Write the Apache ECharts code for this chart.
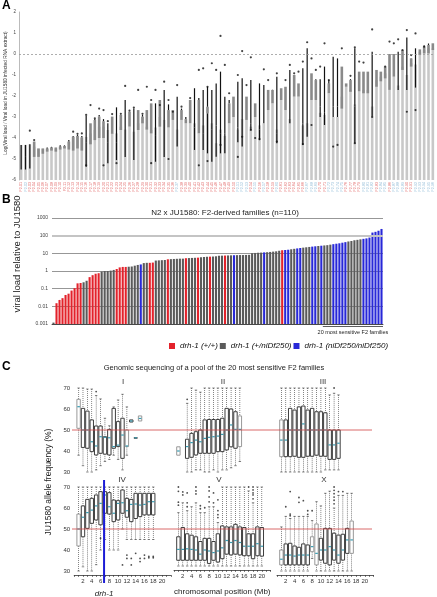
<!DOCTYPE html>
<html><head><meta charset="utf-8">
<script src="https://cdn.jsdelivr.net/npm/echarts@6/dist/echarts.min.js"></script>
<style>html,body{margin:0;padding:0;background:#fff}#c{width:437px;height:597px}</style>
</head><body><div id="c"></div>
<script>
// ---------- Panel A : per-strain log viral load (box summaries) ----------
const aLabels = Array.from({length: 96}, (_, i) => 'F2-' + String(i + 1).padStart(2, '0'));
const aLabelColor = ('rb' + 'r'.repeat(34) + 'b' + 'r'.repeat(13) +
  'bbbrbrbrrbrrrrrrbbbrrbbbbrrrrbbbrbbrbbbrrbbbbb').split('');
const aTop = [-4.33,-4.33,-4.3,-4.41,-4.5,-4.5,-4.5,-4.45,-4.5,-4.42,
  -4.4,-4.17,-3.94,-3.9,-3.97,-3.95,-3.78,-3.62,-3.46,-3.46,
  -3.62,-3.78,-3.78,-3.46,-3.6,-3.46,-3.7,-3.3,-3.0,-3.46,
  -3.62,-3.5,-3.0,-3.14,-3.5,-3.14,-3.6,-3.14,-3.3,-3.3,
  -3.3,-3.78,-3.4,-2.83,-3.3,-4.25,-3.6,-3.9,-3.3,-3.0,
  -3.6,-3.1,-3.14,-3.46,-3.0,-3.4,-3.3,-2.67,-2.35,-3.6,
  -2.19,-2.67,-3.1,-2.03,-2.03,-3.4,-3.3,-2.19,-2.19,-2.8,
  -2.9,-1.87,-3.0,-3.0,-2.03,-1.56,-1.71,-2.4,-1.78,-1.71,
  -1.71,-2.5,-1.24,-1.08,-0.92,-1.71,-1.08,-1.5,-0.6,-1.0,
  -0.44,-0.5,0.11,0.19,0.27,0.27];
const aQ1 = [-4.9,-4.9,-4.9,-4.9,-4.9,-4.75,-4.65,-4.6,-4.65,-4.55,
  -4.5,-4.55,-4.6,-4.5,-4.6,-4.2,-4.3,-4.1,-4.0,-4.0,
  -4.2,-3.8,-4.2,-3.62,-4.0,-3.46,-4.1,-3.62,-3.3,-3.6,
  -3.78,-3.9,-3.46,-3.9,-3.5,-3.14,-4.0,-3.14,-3.3,-3.3,
  -3.5,-3.78,-3.8,-2.83,-3.6,-3.4,-3.8,-3.8,-3.3,-3.0,
  -3.5,-3.9,-3.14,-3.3,-3.0,-3.6,-3.3,-2.67,-2.35,-3.8,
  -2.19,-2.67,-3.0,-2.03,-2.03,-3.3,-3.0,-2.19,-2.19,-2.5,
  -2.8,-1.87,-2.5,-2.5,-2.6,-1.56,-1.8,-2.5,-1.78,-1.87,
  -1.87,-2.98,-1.56,-1.3,-1.16,-1.71,-1.08,-1.71,-0.76,-1.71,
  -0.6,-1.6,-0.05,0.03,0.03,0.19];
const aQ3 = [-4.9,-4.9,-4.9,-4.17,-4.5,-4.5,-4.5,-4.45,-4.45,-4.4,
  -4.38,-4.17,-3.94,-3.9,-3.97,-4.2,-3.3,-3.14,-2.98,-3.2,
  -4.2,-2.98,-4.2,-2.9,-4.0,-2.75,-4.1,-2.67,-2.98,-2.67,
  -2.35,-3.9,-2.19,-3.9,-2.67,-2.67,-4.0,-2.67,-3.1,-2.19,
  -3.5,-2.19,-3.8,-2.51,-3.6,-3.4,-3.8,-3.8,-2.35,-2.03,
  -3.5,-3.9,-2.03,-3.3,-2.35,-3.6,-3.3,-1.71,-1.71,-3.8,
  -1.63,-1.56,-3.0,-1.0,-1.4,-3.3,-3.0,-0.92,-1.24,-2.5,
  -2.8,-1.4,-2.5,-2.5,-0.6,-1.4,-1.24,-2.5,-0.84,-0.84,
  -0.84,-2.98,-0.76,-0.84,-0.6,0.0,0.0,-1.71,0.19,-1.71,
  -0.21,-1.6,0.22,0.35,0.43,0.51];
const aLo = [-5.5,-5.5,-5.45,-4.9,-4.9,-4.75,-4.65,-4.6,-4.65,-4.55,
  -4.5,-4.55,-4.6,-4.5,-4.6,-5.37,-4.3,-4.1,-4.0,-4.0,
  -5.2,-3.8,-5.05,-3.62,-4.9,-3.46,-5.05,-3.62,-3.3,-3.6,
  -3.78,-5.13,-3.46,-4.9,-3.5,-3.14,-4.41,-3.14,-3.3,-3.3,
  -4.57,-3.78,-4.57,-4.73,-5.13,-4.89,-4.73,-4.73,-3.3,-3.0,
  -4.2,-4.4,-3.14,-3.62,-3.0,-4.1,-3.3,-2.67,-2.35,-4.25,
  -2.19,-2.67,-3.3,-2.03,-2.03,-4.33,-3.94,-2.19,-2.19,-3.0,
  -3.38,-1.87,-3.0,-3.0,-2.6,-1.56,-1.8,-4.25,-1.78,-1.87,
  -1.87,-2.98,-1.56,-1.3,-1.16,-1.71,-1.08,-1.71,-0.76,-1.71,
  -0.6,-1.6,-0.05,0.03,0.03,0.19];
const aHi = [-4.33,-4.33,-4.3,-4.17,-4.5,-4.5,-4.45,-4.42,-4.45,-4.35,
  -4.35,-4.1,-3.9,-3.85,-3.9,-2.95,-3.3,-3.1,-2.9,-3.1,
  -3.3,-2.98,-2.54,-2.9,-2.19,-2.75,-2.6,-2.67,-2.9,-2.67,
  -2.35,-2.35,-2.19,-1.71,-2.4,-2.67,-2.03,-2.6,-3.0,-2.19,
  -1.63,-2.1,-1.71,-1.56,-1.71,-1.4,-0.84,-2.03,-2.19,-2.03,
  -1.32,-1.16,-2.03,-1.24,-2.35,-1.4,-1.48,-1.71,-1.7,-1.08,
  -1.63,-1.56,-0.76,-1.0,-1.4,-0.68,0.27,-0.92,-1.2,-1.2,
  -0.6,-1.24,-0.13,-0.21,-0.6,-1.4,-1.2,0.27,-0.84,-0.84,
  -0.84,0.11,-0.76,-0.84,-0.6,0.0,0.0,0.11,0.19,0.78,
  -0.2,0.27,0.22,0.4,0.5,0.51];
const aOut = [null,null,-3.65,-4.1,null,null,null,null,null,null,
  null,null,-3.7,-3.8,-3.78,-2.9,-2.43,-3.06,-2.6,-2.67,
  -3.2,-2.86,null,-2.85,-1.52,-2.7,-2.55,-1.71,-2.85,-1.56,
  -2.19,-1.71,-2.43,-1.32,-2.19,-2.75,-1.48,-2.51,null,-2.1,
  null,-0.76,-0.68,-1.56,-0.44,-0.76,0.86,-0.52,-1.87,null,
  -1.0,0.14,-1.48,-0.16,null,null,-0.73,-1.24,null,-0.92,
  null,-1.24,-0.52,-0.92,-0.84,-0.36,0.56,-0.21,-0.76,-0.6,
  0.51,-1.24,null,null,0.27,null,-1.04,0.32,-0.36,-0.41,
  null,1.17,null,null,-0.6,0.59,0.51,0.7,0.19,1.14,
  -0.05,0.98,null,0.35,null,null];
const aOutLow = [null,null,null,null,null,null,null,null,null,null,
  null,null,null,null,null,-5.3,null,null,null,-5.3,
  null,null,-5.2,null,null,null,null,null,null,null,
  -5.2,null,null,null,-5.0,null,null,null,null,null,
  null,-5.3,null,-5.1,null,null,-4.33,null,null,null,
  -4.9,-3.94,null,-3.62,-4.0,-4.05,null,null,null,-4.17,
  null,null,null,null,null,-4.29,null,-3.38,null,null,
  null,null,-4.41,-4.33,null,null,null,-4.25,null,null,
  null,-3.0,null,null,null,null,null,null,null,-2.75,
  null,-2.67,null,null,null,null];

// ---------- Panel B : F2 families viral load ----------
const bNames = ['drh-1 (+/+)', 'drh-1 (+/niDf250)', 'drh-1 (niDf250/niDf250)'];
const bValues = [0.0012,0.015,0.023,0.029,0.044,0.052,0.078,0.107,0.2,0.21,
  0.23,0.28,0.45,0.58,0.7,0.75,0.93,1.0,1.0,1.05,
  1.15,1.3,1.6,1.7,1.7,1.75,1.8,2.0,2.2,2.35,
  2.8,2.9,2.9,3.0,3.9,4.0,4.1,4.2,4.6,4.7,
  4.8,4.9,5.0,5.0,5.3,5.4,5.5,5.6,5.7,6.0,
  6.2,6.4,6.5,6.6,6.8,7.3,7.4,7.5,7.6,7.7,
  7.8,7.9,8.0,8.0,8.1,8.2,10.2,10.5,10.8,11,
  11.3,11.6,12,12.5,13,14,15,15.5,16,17,
  18,19,20,21,22,23,24,25,26,27,
  28,29,31,33,35,37,40,43,47,50,
  55,58,62,66,70,78,150,165,190,240];
const bGenotype = ['g','rrrrrrrrr','gg','rrrr','ggggg','rrrr','gggg','b','gg','rr','gggg','r',
  'ggggg','r','ggg','r','ggg','r','gggg','r','gg','b','ggggggggg','b','ggggg','r','bb','gg',
  'bb','ggg','bb','g','b','ggg','bbbbb','ggggg','bbbbbbb'].join('').split('');
const bSensitiveRange = [90, 109];
const bTicks = ['0.001','0.01','0.1','1','10','100','1000'];

// ---------- Panel C : allele frequency box plots [Mb, min, q1, median, q3, max, lightBox] ----------
const chrI = [[1,38,50.8,61.1,64.6,70,1],[2,33,41.7,50,60.3,70,0],[3,30,41.3,50,59,69.5,0],
  [4,30,39.7,44.4,54.8,69.5,0],[5,31,38.1,42.4,51.9,66.4,0],[6,33,38.9,46.8,51.9,64.8,0],
  [7,35,38.5,46.5,46.8,55.6,0],[8,36,38.1,46.3,50.3,52,0],[9,38,41.3,42.1,60.3,61,0],
  [10,36,42.1,42.8,54,64.3,0],[11,31,36.5,47.6,55.6,67,0],[12,38,42.1,42.4,50,61,1],
  [13,53.8,53.8,54.3,54.8,54.8,0],[14,46.3,46.3,46.3,46.3,46.3,0],[15,54.3,54.3,55.5,56.7,56.7,1]];
const chrII = [[1,38,38,40,42,42,1],[3,30,36.5,42.1,45.6,62.7,0],[4,30,37,44,48.4,70,0],
  [5,31,38.1,45.2,49.2,69,0],[6,31,38.9,44.4,50,68,0],[7,30,38.9,46,54.8,70,0],
  [8,30,38.9,46.5,55,70,0],[9,31,38.9,46.8,55,70,0],[10,30,39.7,47.1,55,70,0],
  [11,31,39.7,47.9,55.6,70,0],[12,31,40.5,50,60.3,70,0],[13,32,42,52.4,60,70,0],
  [14,33,41.3,50.3,58.7,70,0],[15,35,42.1,50.3,56.7,70,1]];
const chrIII = [[1,30,37.3,45.2,54.8,70,1],[2,30,37.3,45.2,54.8,70,0],[3,30,37.3,50,60.3,70,0],
  [4,30,37.5,50,59.5,70,0],[5,30,37,50,61,70,0],[6,30,37,52.9,61.4,70,0],
  [7,30,37.5,50,59.5,70,0],[8,30,37.5,50,60.3,70,0],[9,30,38,50,58.7,70,0],
  [10,30,37.5,50,58.7,70,0],[11,31,37.5,50,58.2,70,0],[12,31,36,42.9,50,66.7,0],
  [13,31,36,42.9,50,67.5,0],[14,31,36.5,43.7,50,66.7,0]];
const chrIV = [[1,30,41.9,50,57.1,70,1],[2,32,46.3,55.6,61,70,0],[3,30,50.3,57.8,64.1,70,0],
  [4,30,52.7,59,64.6,70,0],[5,33,54.3,61,66.2,70,0],[6,40,52,62.2,67.8,70,0],
  [7,45,57.5,66.2,67.8,70,0],[8,40,57.1,60.6,67.3,70,0],[9,40,53.5,57.5,63.8,70,0],
  [10,40,54.3,62.2,63.5,70,0],[11,50,57.5,62.5,68.6,70,0],[12,45,55.6,58.7,64.6,70,0],
  [13,45,53.5,61.7,64.1,70,0],[14,45,55,61.9,67,70,0],[15,45,55.9,61.4,67,70,0],
  [16,45,56.7,61.7,67,70,0],[17,45,56.7,63,67,70,0],[18,45,56.7,63,67,70,0]];
const chrV = [[1,30,32.9,38.4,44.8,57,0],[2,30,32.9,38.4,49.5,62,0],[3,30,32.9,38.7,46.3,58,0],
  [4,30,32.9,38.4,45.6,60,0],[5,30,32.9,38.1,44.8,62,0],[6,30,32.9,36,42.4,57,0],
  [7,30,32.9,38.1,44,57,0],[8,30,31.3,37.6,44,60,0],[9,30,32.9,36.8,42.4,60,0],
  [10,30,32,37.6,46.3,52,0],[11,30,33.7,39.2,50.3,70,0],[12,30,36,42.9,49.8,70,0],
  [13,30,35.6,41.9,49.8,70,0],[14,30,36,42.9,51.1,70,0],[15,30,35.6,41.9,49.8,70,0],
  [16,30,35.2,40,49.5,70,0],[17,30,35.2,40,46.3,68,0],[18,30,33.7,40,46.3,62,0],
  [19,30,35.2,41.3,49.8,70,0],[20,30,35,40,49.5,70,0]];
const chrX = [[1,30,32.9,35.6,40,51,1],[2,30,32.9,37.6,42.9,56,0],[3,30,32.9,37.6,43.2,55,0],
  [4,30,32.9,37.1,41.9,56,0],[5,30,32.9,37.6,41.3,56,0],[6,30,32.9,37.6,42.9,56,0],
  [7,30,32.9,37.6,42.4,56,0],[8,36,39.2,41.6,46.3,54,1],[9,30,32.9,38.4,52.4,63,1],
  [10,30,35.2,40,45.6,61,0],[11,30,33.7,40,50.3,67,0],[12,30,32.9,41.6,50.3,68,0],
  [13,30,35.2,40,48,60,0],[14,30,33.7,37.6,47.1,66,0],[15,30,35.2,40,47.5,66,0],
  [16,30,38.4,44.8,50.3,67,0],[17,30,38.4,44.8,53.8,67,1]];
const outI = [[5,68.3]];
const outII = [[3,64.6]];
const outIII = [[13,70]];
const outIV = [[2,29.7],[6,45.6],[11,32.9],[12,37.6],[12,36],[13,36],[13,32.9],[14,38.4],[14,29.7],
  [15,36],[15,34.5],[15,29.7],[16,37.6],[16,36],[17,37],[17,36.3],[18,37],[18,36.3]];
const outV = [[1,70],[1,67.8],[1,62.3],[1,60.8],[2,67.5],[2,66],[3,67],[3,62],[3,60],[5,70],[5,68],
  [5,66.5],[6,60.5],[6,59],[7,59.5],[8,70],[8,68],[8,65],[8,62.5],[9,67],[9,62],[10,63.5],[10,58],
  [10,56],[10,54.5],[17,70],[18,70],[18,68.5],[18,67],[18,66],[18,64]];
const outX = [[2,60.6],[3,67.8],[3,57.1],[3,56.3],[5,65],[5,62.7],[6,63.5],[7,58.7],[7,57],[8,58.7],
  [13,70],[13,68.4],[13,66.8],[13,65.2],[13,63.7],[13,62],[14,67.8],[15,67.8]];
const chrNames = ['I','II','III','IV','V','X'];
const drh1Position = 6.8;
const neutralFreq = 50;

// ---------------------------------------------------------------
const FONT = '"Liberation Sans", Arial, Helvetica, sans-serif';
const chart = echarts.init(document.getElementById('c'), null, {renderer: 'canvas'});

function renderA(params, api) {
  const i = api.value(0);
  const bw = api.size([1, 0])[0] * 0.6;
  const base = api.coord([i, -6]);
  const top = api.coord([i, api.value(1)]);
  const q1 = api.coord([i, api.value(2)]);
  const q3 = api.coord([i, api.value(3)]);
  const lo = api.coord([i, api.value(4)]);
  const hi = api.coord([i, api.value(5)]);
  const x = base[0];
  const ch = [{type: 'rect', shape: {x: x - bw / 2, y: top[1], width: bw, height: base[1] - top[1]}, style: {fill: '#c8c8c8'}}];
  if (q1[1] - q3[1] > 0.2) ch.push({type: 'rect', shape: {x: x - bw / 2, y: q3[1], width: bw, height: q1[1] - q3[1]}, style: {fill: '#8a8a8a'}});
  if (lo[1] - q1[1] > 0.2) ch.push({type: 'line', shape: {x1: x, y1: lo[1], x2: x, y2: q1[1]}, style: {stroke: '#111', lineWidth: 1.2}});
  if (q3[1] - hi[1] > 0.2) ch.push({type: 'line', shape: {x1: x, y1: q3[1], x2: x, y2: hi[1]}, style: {stroke: '#111', lineWidth: 1.2}});
  return {type: 'group', children: ch};
}
function renderB(params, api) {
  const i = api.value(0);
  const p = api.coord([i, api.value(1)]);
  const b = api.coord([i, 0.001]);
  const bw = 2.1;
  return {type: 'rect', shape: {x: p[0] - bw / 2, y: p[1], width: bw, height: b[1] - p[1]}, style: {fill: api.visual('color')}};
}
function renderSens(params, api) {
  const a = api.coord([api.value(0), 0.001]), b = api.coord([api.value(1), 0.001]);
  const half = (api.coord([1, 1])[0] - api.coord([0, 1])[0]) / 2;
  const y = a[1] + 2.5;
  return {type: 'group', children: [
    {type: 'line', shape: {x1: a[0] - half, y1: y, x2: b[0] + half, y2: y}, style: {stroke: '#333', lineWidth: 0.8}},
    {type: 'text', x: (a[0] + b[0]) / 2, y: y + 6, style: {text: '20 most sensitive F2 families', font: '5.5px ' + FONT, fill: '#222', align: 'center', verticalAlign: 'middle'}}
  ]};
}
function renderBox(params, api) {
  const pos = api.value(0);
  const c = v => api.coord([pos, v]);
  const pMin = c(api.value(1)), pQ1 = c(api.value(2)), pMed = c(api.value(3)), pQ3 = c(api.value(4)), pMax = c(api.value(5));
  const light = api.value(6) === 1;
  const x = pMed[0], w = 3.4, cap = 1.2;
  const ch = [];
  const dot = {stroke: '#333', lineWidth: 0.6, lineDash: [1, 1]};
  const solid = {stroke: '#333', lineWidth: 0.6};
  if (pQ3[1] - pMax[1] > 0.3) {
    ch.push({type: 'line', shape: {x1: x, y1: pMax[1], x2: x, y2: pQ3[1]}, style: dot});
    ch.push({type: 'line', shape: {x1: x - cap, y1: pMax[1], x2: x + cap, y2: pMax[1]}, style: solid});
  }
  if (pMin[1] - pQ1[1] > 0.3) {
    ch.push({type: 'line', shape: {x1: x, y1: pQ1[1], x2: x, y2: pMin[1]}, style: dot});
    ch.push({type: 'line', shape: {x1: x - cap, y1: pMin[1], x2: x + cap, y2: pMin[1]}, style: solid});
  }
  ch.push({type: 'rect', shape: {x: x - w / 2, y: pQ3[1], width: w, height: Math.max(pQ1[1] - pQ3[1], 0.4)},
    style: {fill: '#fff', stroke: light ? '#999' : '#3d3d3d', lineWidth: 1}});
  ch.push({type: 'line', shape: {x1: x - w / 2 + 0.4, y1: pMed[1], x2: x + w / 2 - 0.4, y2: pMed[1]}, style: {stroke: '#3a9db3', lineWidth: 1.2}});
  return {type: 'group', children: ch};
}
function renderHLine(params, api) {
  const a = api.coord([0, api.value(1)]), b = api.coord([1, api.value(1)]);
  return {type: 'line', shape: {x1: a[0], y1: a[1], x2: b[0], y2: b[1]}, style: {stroke: '#d04545', lineWidth: 0.8}};
}
function renderDrh(params, api) {
  const pos = api.value(0);
  const t = api.coord([pos, 70]), b = api.coord([pos, 30]);
  return {type: 'group', children: [
    {type: 'line', shape: {x1: t[0], y1: t[1] - 7, x2: b[0], y2: b[1] + 12}, style: {stroke: '#1c1cd6', lineWidth: 2}},
    {type: 'text', x: t[0], y: b[1] + 23, style: {text: 'drh-1', font: 'italic 8px ' + FONT, fill: '#222', align: 'center', verticalAlign: 'middle'}}
  ]};
}
function txt(text, x, y, size, o) {
  o = o || {};
  const font = (o.italic ? 'italic ' : '') + (o.bold ? 'bold ' : '') + size + 'px ' + FONT;
  return {type: 'text', x: x, y: y, rotation: o.rot || 0, silent: true, z: 100,
    style: {text: text, font: font, fill: o.color || '#222', align: o.align || 'center', verticalAlign: o.va || 'middle',
      textAlign: o.align || 'center', textVerticalAlign: o.va || 'middle'}};
}

// C grid geometry (left edges where 0 Mb sits)
const cLefts = [74.2, 174, 277];
const cTops = [388, 487];
const grids = [
  {left: 19, top: 12, width: 416, height: 168},
  {left: 52, top: 218, width: 331, height: 106}
];
for (let r = 0; r < 2; r++) for (let k = 0; k < 3; k++) grids.push({left: cLefts[k], top: cTops[r], width: 96.6, height: 84});
grids.push({left: 72, top: cTops[0], width: 300, height: 84});
grids.push({left: 72, top: cTops[1], width: 300, height: 84});

const xAxes = [
  {gridIndex: 0, type: 'category', data: aLabels, axisLine: {show: false}, axisTick: {show: false},
    axisLabel: {rotate: 90, fontSize: 3.6, margin: 2, interval: 0, fontFamily: FONT,
      color: (v, idx) => aLabelColor[idx] === 'b' ? '#8fbad6' : '#e06464'}},
  {gridIndex: 1, type: 'category', data: bValues.map((_, i) => String(i + 1)),
    axisLine: {show: true, lineStyle: {color: '#333', width: 0.8}}, axisTick: {show: false}, axisLabel: {show: false}}
];
const yAxes = [
  {gridIndex: 0, type: 'value', min: -6, max: 2, interval: 1, axisLine: {show: true, lineStyle: {color: '#bbb', width: 1}},
    axisTick: {show: false}, splitLine: {show: false}, axisLabel: {fontSize: 4.5, color: '#444', margin: 3, fontFamily: FONT}},
  {gridIndex: 1, type: 'log', logBase: 10, min: 0.001, max: 1000, splitNumber: 6, axisLine: {show: false}, axisTick: {show: false},
    axisLabel: {fontSize: 5, color: '#444', margin: 4, fontFamily: FONT, formatter: v => bTicks[Math.round(Math.log10(v)) + 3]},
    splitLine: {show: true, lineStyle: {color: '#6a6a6a', width: 0.7}}}
];
for (let r = 0; r < 2; r++) for (let k = 0; k < 3; k++) {
  const gi = 2 + r * 3 + k;
  xAxes.push({gridIndex: gi, type: 'value', min: 0, max: 22, interval: 1, show: r === 1,
    name: (r === 1 && k === 1) ? 'chromosomal position (Mb)' : '', nameLocation: 'middle', nameGap: 18,
    nameTextStyle: {fontSize: 8, color: '#222', fontFamily: FONT}, offset: 4,
    axisLine: {show: true, lineStyle: {color: '#333', width: 0.8}}, axisTick: {show: true, length: 2, lineStyle: {color: '#333', width: 0.6}},
    splitLine: {show: false},
    axisLabel: {fontSize: 6, color: '#333', margin: 3, fontFamily: FONT, formatter: v => (v > 0 && v <= 20 && v % 2 === 0) ? String(v) : ''}});
  yAxes.push({gridIndex: gi, type: 'value', min: 30, max: 70, interval: 10, show: k === 0,
    axisLine: {show: false}, axisTick: {show: false}, splitLine: {show: false},
    axisLabel: {fontSize: 6, color: '#333', margin: 4, fontFamily: FONT}});
}
for (let r = 0; r < 2; r++) {
  xAxes.push({gridIndex: 8 + r, type: 'value', min: 0, max: 1, show: false});
  yAxes.push({gridIndex: 8 + r, type: 'value', min: 30, max: 70, show: false});
}

const bColors = {r: '#e3222b', g: '#5a5a5a', b: '#2828d8'};
const series = [
  {type: 'custom', xAxisIndex: 0, yAxisIndex: 0, renderItem: renderA,
    data: aTop.map((t, i) => [i, t, aQ1[i], aQ3[i], aLo[i], aHi[i]]),
    markLine: {silent: true, symbol: ['none', 'none'], label: {show: false},
      lineStyle: {type: [2, 2], color: '#999', width: 0.8}, data: [{yAxis: 0}]}},
  {type: 'scatter', xAxisIndex: 0, yAxisIndex: 0, symbolSize: 2.2, itemStyle: {color: '#111'},
    data: aOut.map(v => v == null ? '-' : v)},
  {type: 'scatter', xAxisIndex: 0, yAxisIndex: 0, symbolSize: 2.2, itemStyle: {color: '#111'},
    data: aOutLow.map(v => v == null ? '-' : v)}
];
['r', 'g', 'b'].forEach((code, n) => {
  const s = {type: 'custom', name: bNames[n], xAxisIndex: 1, yAxisIndex: 1, renderItem: renderB,
    itemStyle: {color: bColors[code]},
    data: bValues.map((v, i) => bGenotype[i] === code ? [i, v] : null).filter(d => d)};
  if (code === 'g') s.markLine = {silent: true, symbol: ['none', 'none'], label: {show: false},
    lineStyle: {type: 'solid', color: '#c4c4c4', width: 2}, data: [{yAxis: 100}]};
  series.push(s);
});
series.push({type: 'custom', xAxisIndex: 1, yAxisIndex: 1, renderItem: renderSens, data: [bSensitiveRange]});
const chrData = [chrI, chrII, chrIII, chrIV, chrV, chrX];
const outData = [outI, outII, outIII, outIV, outV, outX];
chrData.forEach((d, k) => {
  series.push({type: 'custom', xAxisIndex: 2 + k, yAxisIndex: 2 + k, renderItem: renderBox, data: d, z: 2});
  series.push({type: 'scatter', xAxisIndex: 2 + k, yAxisIndex: 2 + k, symbolSize: 1.8, itemStyle: {color: '#222'}, data: outData[k], z: 3});
});
series.push({type: 'custom', xAxisIndex: 8, yAxisIndex: 8, renderItem: renderHLine, data: [[0, neutralFreq]], z: 5});
series.push({type: 'custom', xAxisIndex: 9, yAxisIndex: 9, renderItem: renderHLine, data: [[0, neutralFreq]], z: 5});
series.push({type: 'custom', xAxisIndex: 5, yAxisIndex: 5, renderItem: renderDrh, data: [[drh1Position, 50]], z: 6});

const graphic = [
  txt('A', 2, 0, 12, {bold: true, align: 'left', va: 'top', color: '#000'}),
  txt('B', 2, 194, 12, {bold: true, align: 'left', va: 'top', color: '#000'}),
  txt('C', 2, 361, 12, {bold: true, align: 'left', va: 'top', color: '#000'}),
  txt('Log(Viral load / Viral load in JU1580 infected RNA extract)', 6, 93, 4.8, {rot: Math.PI / 2, color: '#333'}),
  txt('N2 x JU1580: F2-derived families (n=110)', 225, 213, 8),
  txt('viral load relative to JU1580', 17, 254, 9.5, {rot: Math.PI / 2}),
  txt('Genomic sequencing of a pool of the 20 most sensitive F2 families', 214, 368, 7.5),
  txt('JU1580 allele frequency (%)', 49, 482, 8.5, {rot: Math.PI / 2}),
  txt(chrNames[0], 123, 382, 8, {color: '#333'}),
  txt(chrNames[1], 223, 382, 8, {color: '#333'}),
  txt(chrNames[2], 323, 382, 8, {color: '#333'}),
  txt(chrNames[3], 122, 480, 8, {color: '#333'}),
  txt(chrNames[4], 219, 480, 8, {color: '#333'}),
  txt(chrNames[5], 324, 480, 8, {color: '#333'})
];

chart.setOption({
  animation: false,
  textStyle: {fontFamily: FONT},
  grid: grids,
  xAxis: xAxes,
  yAxis: yAxes,
  legend: {data: bNames.map(n => ({name: n, icon: 'rect'})), left: 169, top: 342, itemWidth: 6, itemHeight: 6,
    itemGap: 2, padding: 0, selectedMode: false,
    textStyle: {fontSize: 8, fontStyle: 'italic', color: '#111', fontFamily: FONT}},
  graphic: graphic,
  series: series
});
</script></body></html>
